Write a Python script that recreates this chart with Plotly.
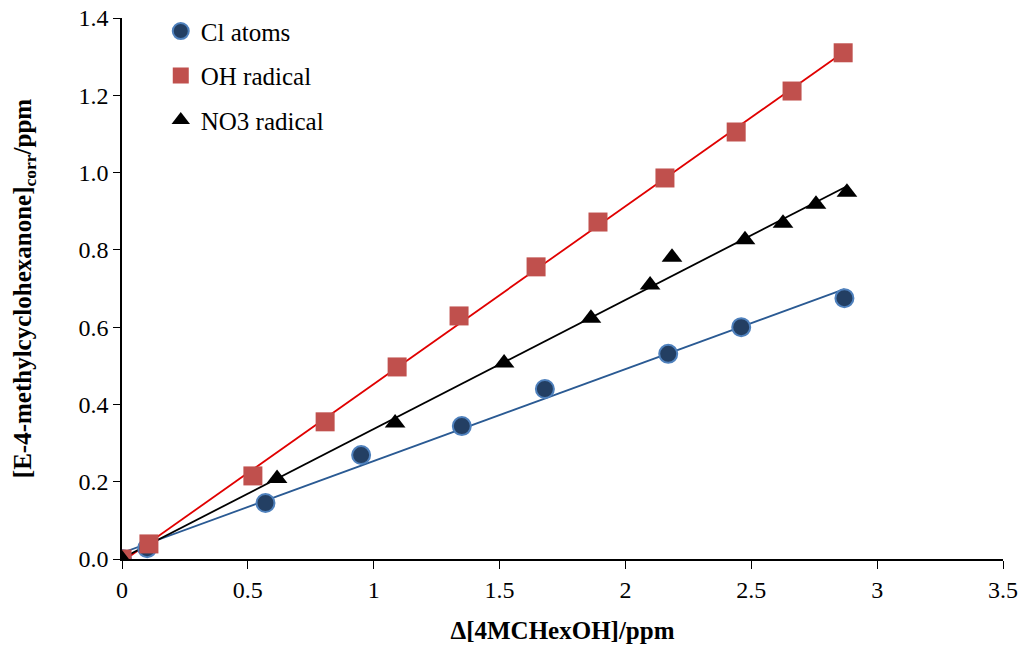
import numpy as np
import plotly.graph_objects as go

cl_x = [0.0, 0.10, 0.57, 0.95, 1.35, 1.68, 2.17, 2.46, 2.87]
cl_y = [0.0, 0.028, 0.145, 0.269, 0.344, 0.44, 0.531, 0.600, 0.675]

oh_x = [0.0, 0.107, 0.52, 0.807, 1.093, 1.339, 1.645, 1.891, 2.157, 2.44, 2.662, 2.865]
oh_y = [0.0, 0.039, 0.215, 0.355, 0.497, 0.629, 0.756, 0.872, 0.986, 1.105, 1.211, 1.31]

no3_x = [0.0, 0.616, 1.085, 1.518, 1.863, 2.098, 2.185, 2.475, 2.626, 2.757, 2.88]
no3_y = [0.0, 0.208, 0.352, 0.507, 0.623, 0.709, 0.781, 0.826, 0.869, 0.918, 0.949]

y_ticks = [0.0, 0.2, 0.4, 0.6, 0.8, 1.0, 1.2, 1.4]
y_tick_labels = ["0.0", "0.2", "0.4", "0.6", "0.8", "1.0", "1.2", "1.4"]
x_ticks = [0, 0.5, 1, 1.5, 2, 2.5, 3, 3.5]
x_tick_labels = ["0", "0.5", "1", "1.5", "2", "2.5", "3", "3.5"]

FONT = "Liberation Serif, Times New Roman, serif"

fig = go.Figure()

def trend(xs, ys, color):
    xs = np.array(xs); ys = np.array(ys)
    m, b = np.polyfit(xs, ys, 1)
    xl = np.array([xs.min(), xs.max()])
    fig.add_trace(go.Scatter(x=xl, y=m * xl + b, mode="lines",
                             line=dict(color=color, width=1.8),
                             showlegend=False, hoverinfo="skip"))

trend(cl_x, cl_y, "#2a5a93")
trend(oh_x, oh_y, "#e00000")
trend(no3_x, no3_y, "#000000")

fig.add_trace(go.Scatter(x=cl_x, y=cl_y, mode="markers", name="Cl atoms", legendgroup="a",
                         marker=dict(symbol="circle", size=18, color="#233f63",
                                     line=dict(color="#4f81bd", width=2))))
fig.add_trace(go.Scatter(x=oh_x, y=oh_y, mode="markers", name="OH radical", legendgroup="b",
                         marker=dict(symbol="square", size=19, color="#c0504d",
                                     line=dict(color="#c0504d", width=0))))
fig.add_trace(go.Scatter(x=no3_x, y=no3_y, mode="markers", name="NO3 radical", legendgroup="c",
                         marker=dict(symbol="triangle-up", size=18, color="#000000",
                                     line=dict(width=0))))

fig.update_layout(
    width=1024, height=650,
    margin=dict(l=122, r=21, t=18, b=91, autoexpand=False),
    paper_bgcolor="white", plot_bgcolor="white",
    font=dict(family=FONT, size=24, color="black"),
    legend=dict(x=0.044, y=1.018, xanchor="left", yanchor="top",
                bgcolor="rgba(0,0,0,0)", font=dict(size=25),
                tracegroupgap=9, itemwidth=30),
    xaxis=dict(range=[0, 3.5], tickmode="array", tickvals=x_ticks, ticktext=x_tick_labels,
               showgrid=False, zeroline=False, showline=True, linecolor="black",
               linewidth=1.5, ticks="outside", ticklen=8, tickcolor="black",
               tickfont=dict(size=24), automargin=False, ticklabeloverflow="allow",
               title=dict(text="<b>Δ[4MCHexOH]/ppm</b>", font=dict(size=25), standoff=20)),
    yaxis=dict(range=[0, 1.4], tickmode="array", tickvals=y_ticks, ticktext=y_tick_labels,
               showgrid=False, zeroline=False, showline=True, linecolor="black",
               linewidth=1.5, ticks="outside", ticklen=7, tickcolor="black",
               tickfont=dict(size=24), automargin=False, ticklabeloverflow="allow",
               title=dict(text="<b>[E-4-methylcyclohexanone]<sub>corr</sub>/ppm</b>",
                          font=dict(size=25), standoff=40)),
)

fig.write_html("out.html", config={"displayModeBar": False},
               post_script="document.body.style.margin='0';")
